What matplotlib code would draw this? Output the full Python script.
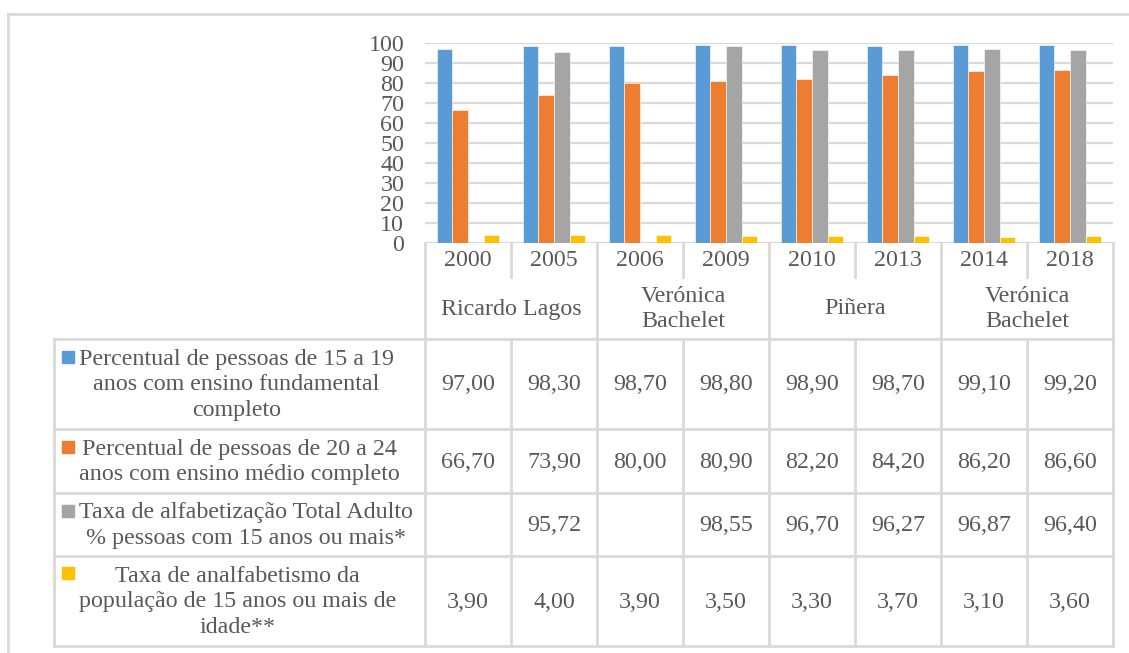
import numpy as np
import matplotlib.pyplot as plt
from matplotlib.patches import Rectangle

years = ['2000', '2005', '2006', '2009', '2010', '2013', '2014', '2018']
presidents = [('Ricardo Lagos', 0, 2), ('Verónica\nBachelet', 2, 4),
              ('Piñera', 4, 6), ('Verónica\nBachelet', 6, 8)]

series_names = [
    'Percentual de pessoas de 15 a 19\nanos com ensino fundamental\ncompleto',
    'Percentual de pessoas de 20 a 24\nanos com ensino médio completo',
    'Taxa de alfabetização Total Adulto\n% pessoas com 15 anos ou mais*',
    'Taxa de analfabetismo da\npopulação de 15 anos ou mais de\nidade**',
]
fundamental = [97.00, 98.30, 98.70, 98.80, 98.90, 98.70, 99.10, 99.20]
medio = [66.70, 73.90, 80.00, 80.90, 82.20, 84.20, 86.20, 86.60]
alfabetizacao = [None, 95.72, None, 98.55, 96.70, 96.27, 96.87, 96.40]
analfabetismo = [3.90, 4.00, 3.90, 3.50, 3.30, 3.70, 3.10, 3.60]
series = [fundamental, medio, alfabetizacao, analfabetismo]
colors = ['#5B9BD5', '#ED7D31', '#A5A5A5', '#FFC000']

W, H = 1129, 653
txt = '#595959'
line = '#D9D9D9'
fs = 17.3
plt.rcParams['font.family'] = ['Liberation Serif', 'DejaVu Serif']

fig = plt.figure(figsize=(W / 100, H / 100), dpi=100)

# pixel-space layer for the frame and the data table
ov = fig.add_axes([0, 0, 1, 1])
ov.set_xlim(0, W)
ov.set_ylim(H, 0)
ov.axis('off')

# plot area in pixels
x0, x1 = 425, 1113
y_top, y_bot = 43, 243
cw = (x1 - x0) / len(years)

ax = fig.add_axes([x0 / W, (H - y_bot) / H, (x1 - x0) / W, (y_bot - y_top) / H])
bw = 0.183
for k, (vals, c) in enumerate(zip(series, colors)):
    v = np.array([np.nan if a is None else a for a in vals], dtype=float)
    ax.bar(np.arange(len(years)) + 0.5 + (k - 1.5) * bw, v, width=bw,
           color=c, edgecolor='white', linewidth=0.4, zorder=3)
ax.set_xlim(0, len(years))
ax.set_ylim(0, 100)
ax.set_yticks(range(0, 101, 10))
ax.yaxis.grid(True, color=line, linewidth=1.6, zorder=0)
ax.set_xticks([])
ax.tick_params(axis='y', length=0, pad=15, labelsize=fs, labelcolor=txt)
for s in ax.spines.values():
    s.set_visible(False)
ax.patch.set_alpha(0)

lw = 2.0
# outer frame
ov.plot([8, W], [14, 14], color=line, lw=lw)
ov.plot([8, 8], [14, H], color=line, lw=lw)

# category header: years and presidents
y_year, y_pres = 277, 339
for i, yr in enumerate(years):
    ov.text(x0 + cw * (i + 0.5), 261, yr, ha='center', va='center',
            fontsize=fs, color=txt)
for name, a, b in presidents:
    ov.text(x0 + cw * (a + b) / 2, 309, name, ha='center', va='center',
            fontsize=fs, color=txt, linespacing=1.3)
for i in range(len(years) + 1):
    bottom = y_pres if i % 2 == 0 else y_year
    ov.plot([x0 + cw * i] * 2, [y_bot, bottom], color=line, lw=lw)

# data table rows
rows = [339, 429, 493, 556, 646]
tl = 54
for yy in rows:
    ov.plot([tl, x1], [yy, yy], color=line, lw=lw)
for xx in [tl] + [x0 + cw * i for i in range(len(years) + 1)]:
    ov.plot([xx, xx], [rows[0], rows[-1]], color=line, lw=lw)

first_line = [357, 447, 511, 573]
for r, (name, vals, c) in enumerate(zip(series_names, series, colors)):
    yc = (rows[r] + rows[r + 1]) / 2
    ov.text(79, yc + 1, name, ha='left', va='center', multialignment='center',
            fontsize=fs, color=txt, linespacing=1.3)
    ov.add_patch(Rectangle((62, first_line[r] - 6), 12, 12, color=c))
    for i, v in enumerate(vals):
        if v is None:
            continue
        ov.text(x0 + cw * (i + 0.5), yc + 1, f'{v:.2f}'.replace('.', ','),
                ha='center', va='center', fontsize=fs, color=txt)

fig.savefig('out.png', dpi=100)
